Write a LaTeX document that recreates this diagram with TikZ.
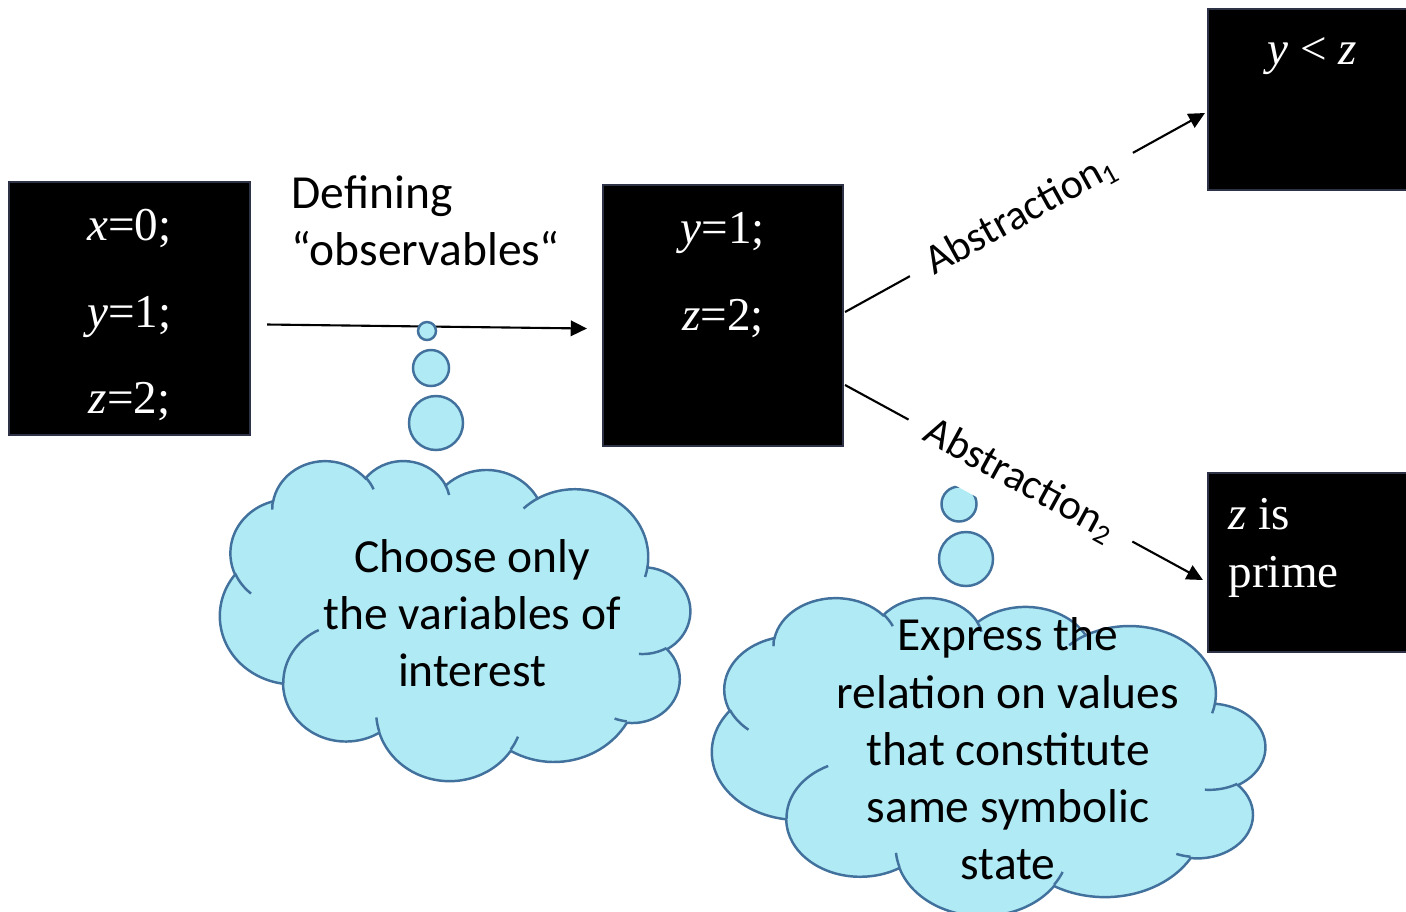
\documentclass[tikz,border=0pt]{standalone}
\usepackage{fontspec}
\setmainfont{Carlito}
\newfontfamily\timesfont{Liberation Serif}
\usetikzlibrary{positioning,arrows.meta}

\definecolor{cloudblue}{RGB}{175,234,245}
\definecolor{cloudedge}{RGB}{65,113,156}
\definecolor{boxedge}{RGB}{45,50,70}

\tikzset{
  % elliptic arc given by radii, visual start angle and sweep
  ooarc/.code n args={4}{%
    \pgfmathsetmacro\ooa{atan2(#1*sin(#3),#2*cos(#3))}%
    \pgfmathsetmacro\oob{atan2(#1*sin(#3+#4),#2*cos(#3+#4))}%
    \pgfmathsetmacro\ood{mod(\oob-(\ooa)+720,360)}%
    \edef\oonext{\noexpand\pgfkeysalso{x radius=#1,y radius=#2,start angle=\ooa,delta angle=\ood}}%
    \oonext},
  cloudbody/.style={fill=cloudblue, draw=cloudedge, line width=0.7pt},
  bubble/.style={circle, fill=cloudblue, draw=cloudedge, line width=0.7pt, inner sep=0pt},
  statebox/.style={fill=black, draw=boxedge, line width=0.5pt, inner sep=0pt, outer sep=0pt},
  statetext/.style={text=white, inner sep=0pt, font=\timesfont\fontsize{13.4}{24.5}\selectfont},
  note/.style={inner sep=0pt, font=\fontsize{13.5}{16.3}\selectfont},
  arr/.style={-{Triangle[length=4.6pt,width=4.4pt]}, line width=0.6pt},
  abslabel/.style={sloped, fill=white, inner xsep=6pt, inner ysep=5pt,
    font=\fontsize{12}{14}\selectfont}
}

% thought cloud (flipped), left top width height
\newcommand\thoughtcloud[4]{%
  \begin{scope}[shift={(#1+#3,#2)}, x={(-#3*0.01cm/432,0)}, y={(0,-#4*0.01cm/432)}]
    \filldraw[cloudbody] (39.00,143.70)
      arc[ooarc={67.53}{91.90}{-190.4875}{123.7805}]
      arc[ooarc={53.33}{72.67}{-144.1024}{89.9452}]
      arc[ooarc={43.65}{59.45}{-145.8079}{99.7230}]
      arc[ooarc={48.57}{65.95}{-130.9861}{117.2417}]
      arc[ooarc={53.33}{72.73}{-78.7089}{109.0269}]
      arc[ooarc={67.75}{92.20}{-46.2673}{130.2690}]
      arc[ooarc={57.85}{78.67}{0.6250}{114.0333}]
      arc[ooarc={67.52}{92.15}{22.4516}{115.1726}]
      arc[ooarc={77.20}{105.43}{66.2426}{75.7110}]
      arc[ooarc={43.60}{59.18}{-274.9421}{146.7356}]
      arc[ooarc={43.45}{59.45}{-246.8285}{152.5189}] -- cycle;
    \draw[cloudbody, fill=none]
      (46.93,261.77) arc[ooarc={43.45}{59.45}{86.7420}{26.4295}]
      (69.28,348.99) arc[ooarc={43.60}{59.18}{73.6105}{11.4475}]
      (164.78,390.90) arc[ooarc={67.52}{92.15}{137.6242}{14.0811}]
      (288.27,347.51) arc[ooarc={67.52}{92.15}{6.4533}{15.9984}]
      (341.29,229.54) arc[ooarc={57.85}{78.67}{-70.2924}{70.9174}]
      (417.98,153.54) arc[ooarc={53.33}{72.73}{30.3180}{27.7515}]
      (383.24,54.26) arc[ooarc={48.57}{65.95}{-13.7443}{14.8540}]
      (290.78,39.52) arc[ooarc={48.57}{65.95}{-149.1815}{18.1976}]
      (221.41,47.20) arc[ooarc={43.65}{59.45}{-163.4943}{17.6847}]
      (140.00,51.92) arc[ooarc={67.53}{91.90}{-66.7070}{12.3194}]
      (41.27,157.89) arc[ooarc={67.53}{91.90}{157.6544}{11.8582}];
  \end{scope}}

\begin{document}
\begin{tikzpicture}[x=0.01cm, y=-0.01cm]
  \useasboundingbox (0,0) rectangle (1406,911);

  % Clouds
  \thoughtcloud{220}{460}{470}{320}
  \thoughtcloud{712}{597}{553}{318}
  \node[note, align=center] (choose) at (472,613)
    {Choose only\\the variables of\\interest};
  \node[note, align=center] (express) at (1008,749)
    {Express the\\relation on values\\that constitute\\same symbolic\\state};

  % State boxes
  \node[statebox, minimum width=2.41cm, minimum height=2.53cm] (vars) at (129.5,308.5) {};
  \node[statetext, align=center] (varvals) at (129.5,315)
    {{\itshape x}=0;\\{\itshape y}=1;\\{\itshape z}=2;};
  \node[statebox, minimum width=2.40cm, minimum height=2.61cm] (obs) at (723,315.5) {};
  \node[statetext, align=center] (obsvals) at (723,275) {{\itshape y}=1;\\{\itshape z}=2;};
  \node[statebox, minimum width=2.04cm, minimum height=1.81cm] (less) at (1310,99.5) {};
  \node[statetext] (lesstext) at (1312,56) {{\itshape y} < {\itshape z}};
  \node[statebox, minimum width=2.04cm, minimum height=1.79cm] (prime) at (1310,562.5) {};
  \node[statetext, align=left, anchor=west, font=\timesfont\fontsize{13.4}{16.5}\selectfont]
    (primetext) at (1228,548) {{\itshape z} is\\prime};

  % Defining observables
  \node[note, align=left, anchor=west] (deflabel) at (291,221)
    {Defining\\“observables“};
  \draw[arr] ([shift={(17,16)}]vars.east) -- ([shift={(-16,13)}]obs.west);

  % Bubbles
  \node[bubble, minimum size=0.18cm] (c1a) at (427,331) {};
  \node[bubble, minimum size=0.36cm] (c1b) at (431,368) {};
  \node[bubble, minimum size=0.54cm] (c1c) at (436,423) {};
  \node[bubble, minimum size=0.35cm] (c2a) at (959,504) {};
  \node[bubble, minimum size=0.54cm] (c2b) at (966,559) {};

  % Abstractions
  \draw[arr] ([shift={(2,-3.5)}]obs.east) --
    node[abslabel, pos=0.49] (abs1) {Abstraction\textsubscript{1}}
    ([shift={(-3,13.5)}]less.west);
  \draw[arr] ([shift={(2,69.5)}]obs.east) --
    node[abslabel, pos=0.49] (abs2) {Abstraction\textsubscript{2}}
    ([shift={(-5,17.5)}]prime.west);
\end{tikzpicture}
\end{document}
